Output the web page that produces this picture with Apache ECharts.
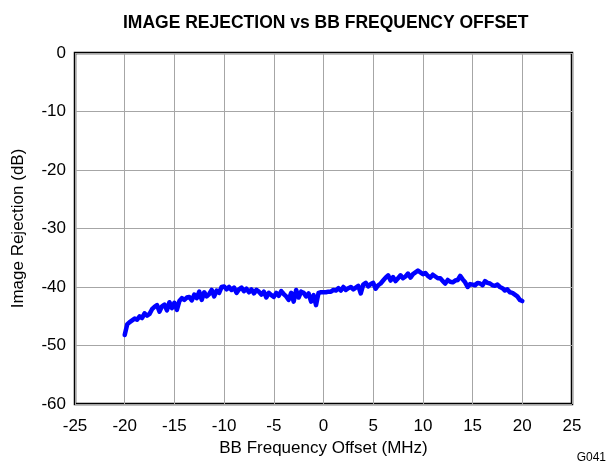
<!DOCTYPE html>
<html>
<head>
<meta charset="utf-8">
<script src="https://cdn.jsdelivr.net/npm/echarts@6/dist/echarts.min.js"></script>
<style>
  html, body { margin: 0; padding: 0; background: #fff; }
  #chart { width: 613px; height: 466px; }
</style>
</head>
<body>
<div id="chart"></div>
<script>
// Baseband frequency offset (MHz), 0.25 MHz steps from -20 to +20
const offsetStart = -20;
const offsetStep = 0.25;

// Measured image rejection (dB) at each offset
const imageRejection = [
  -48.2, -46.4, -46.0, -45.7, -45.4, -45.6, -45.0, -45.3, -44.5, -44.9,
  -44.6, -43.8, -43.4, -43.1, -44.2, -43.3, -43.0, -44.0, -42.6, -43.6,
  -42.7, -43.9, -42.4, -41.9, -42.2, -41.8, -41.7, -42.3, -41.3, -41.9,
  -40.8, -42.2, -40.9, -41.6, -41.2, -40.5, -41.6, -40.6, -41.0, -40.0,
  -39.9, -40.4, -40.0, -40.5, -40.1, -41.0, -40.4, -40.1, -40.7, -40.3,
  -40.9, -40.4, -41.1, -40.5, -40.8, -41.3, -40.8, -41.8, -41.0, -41.4,
  -41.7, -41.0, -41.5, -40.7, -41.2, -41.6, -42.2, -41.0, -42.5, -40.5,
  -41.8, -40.8, -41.0, -41.6, -41.1, -42.5, -41.4, -43.1, -41.0, -40.9,
  -40.9, -40.9, -40.8, -40.8, -40.5, -40.6, -40.2, -40.6, -40.0, -40.5,
  -40.2, -40.0, -40.4, -40.1, -39.8, -41.1, -39.6, -39.3, -39.9, -39.5,
  -39.3, -40.3, -39.7, -39.4, -38.9, -38.4, -38.0, -38.9, -38.3, -39.0,
  -38.5, -38.0, -38.5, -38.2, -37.7, -38.4, -37.8, -37.5, -37.2, -37.5,
  -37.8, -37.6, -38.1, -38.4, -37.9, -38.2, -38.5, -38.5, -39.0, -39.4,
  -38.8, -39.1, -39.2, -38.9, -38.8, -38.1, -38.7, -39.2, -40.0, -39.5,
  -39.6, -39.7, -39.3, -39.4, -39.7, -39.0, -39.3, -39.4, -39.7, -39.8,
  -39.6, -40.0, -40.2, -40.6, -40.4, -40.9, -41.0, -41.3, -41.6, -42.2,
  -42.4
];

// Axis ranges
const xAxisMin = -25, xAxisMax = 25, xAxisStep = 5;
const yAxisMin = -60, yAxisMax = 0, yAxisStep = 10;

const points = imageRejection.map((v, i) => [offsetStart + i * offsetStep, v]);

const font = '"Liberation Sans", Arial, sans-serif';
const chart = echarts.init(document.getElementById('chart'), null, { renderer: 'canvas' });

chart.setOption({
  animation: false,
  backgroundColor: '#ffffff',
  title: {
    text: 'IMAGE REJECTION vs BB FREQUENCY OFFSET',
    left: 118,
    top: 9,
    textStyle: { fontFamily: font, fontSize: 17.5, fontWeight: 'bold', color: '#000' }
  },
  grid: {
    left: 75, right: 41, top: 53, bottom: 62,
    show: true, borderColor: '#000', borderWidth: 2.5, backgroundColor: 'transparent'
  },
  xAxis: {
    type: 'value',
    min: xAxisMin, max: xAxisMax, interval: xAxisStep,
    name: 'BB Frequency Offset (MHz)',
    nameLocation: 'middle',
    nameGap: 29,
    nameTextStyle: { fontFamily: font, fontSize: 17, color: '#000' },
    axisLine: { show: false },
    axisTick: { show: false },
    axisLabel: { fontFamily: font, fontSize: 17, color: '#000', margin: 14 },
    splitLine: { show: true, lineStyle: { color: '#a6a6a6', width: 1 } }
  },
  yAxis: {
    type: 'value',
    min: yAxisMin, max: yAxisMax, interval: yAxisStep,
    name: 'Image Rejection (dB)',
    nameLocation: 'middle',
    nameGap: 48,
    nameTextStyle: { fontFamily: font, fontSize: 17, color: '#000' },
    axisLine: { show: false },
    axisTick: { show: false },
    axisLabel: { fontFamily: font, fontSize: 17, color: '#000', margin: 9 },
    splitLine: { show: true, lineStyle: { color: '#a6a6a6', width: 1 } }
  },
  graphic: [{
    type: 'text',
    right: 7,
    bottom: 2,
    style: { text: 'G041', font: '12px ' + font, fill: '#000' }
  }],
  series: [{
    type: 'line',
    data: points,
    showSymbol: false,
    smooth: false,
    lineStyle: { color: '#0000ff', width: 4.5, join: 'round', cap: 'round' },
    z: 3
  }]
});
</script>
</body>
</html>
